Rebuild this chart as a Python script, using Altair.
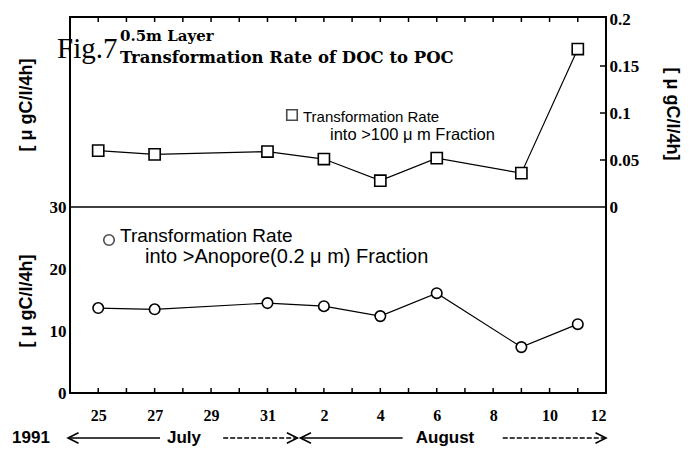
import altair as alt
import pandas as pd

# ---------------- data ----------------
days = [25, 27, 31, 33, 35, 37, 40, 42]          # 33 = Aug 2, ..., 42 = Aug 11
rate_100um = [0.060, 0.056, 0.059, 0.051, 0.028, 0.052, 0.036, 0.168]
rate_anopore = [13.7, 13.5, 14.5, 14.0, 12.4, 16.1, 7.4, 11.1]

x_tick_values = [25, 27, 29, 31, 33, 35, 37, 39, 41, 43]
minor_tick_days = list(range(25, 43))
top_y_ticks = [0, 0.05, 0.1, 0.15, 0.2]
bottom_y_ticks = [0, 10, 20, 30]
right_inner_ticks = [0.05, 0.1, 0.15]

solid_arrow_start = [23.93, 32.17]
solid_arrow_end = [27.19, 35.79]
dashed_arrow_start = [29.43, 39.34]
dashed_arrow_end = [32.06, 43.0]
arrowhead_left = [23.93, 32.17]
arrowhead_right = [32.06, 43.0]

UNIT = "[ \u03bc gC/l/4h]"

# ---------------- shared encodings ----------------
X_SCALE = alt.Scale(domain=[24, 43], nice=False, zero=False)
X_AXIS = alt.Axis(values=x_tick_values,
                  labelExpr="datum.value > 31 ? datum.value - 31 : datum.value",
                  ticks=False, tickSize=0, domain=False, grid=False,
                  labelFont="Liberation Serif", labelFontWeight="bold",
                  labelFontSize=16, labelColor="black", labelPadding=14,
                  labelBaseline="top")


def xenc(field):
    return alt.X(f"{field}:Q", scale=X_SCALE, axis=X_AXIS, title=None)


TOP_SCALE = alt.Scale(domain=[0, 0.2], range=[190, 2], nice=False, zero=True)
BOT_SCALE = alt.Scale(domain=[0, 30], range=[376, 190], nice=False, zero=True)

df_top = pd.DataFrame({"day": days, "rate": rate_100um})
df_bot = pd.DataFrame({"day": days, "rate": rate_anopore})

top = alt.Chart(df_top).mark_line(
    color="black", strokeWidth=1.2,
    point=alt.OverlayMarkDef(shape="square", size=125, filled=True, fill="white",
                             stroke="black", strokeWidth=1.6)
).encode(
    x=xenc("day"),
    y=alt.Y("rate:Q", scale=TOP_SCALE, title=None,
            axis=alt.Axis(orient="right", values=top_y_ticks, format=".2~f",
                          ticks=False, domain=False, grid=False,
                          labelFont="Liberation Serif", labelFontWeight="bold",
                          labelFontSize=17, labelColor="black", labelPadding=3))
)

bottom = alt.Chart(df_bot).mark_line(
    color="black", strokeWidth=1.2,
    point=alt.OverlayMarkDef(shape="circle", size=110, filled=True, fill="white",
                             stroke="black", strokeWidth=1.6)
).encode(
    x=xenc("day"),
    y=alt.Y("rate:Q", scale=BOT_SCALE, title=None,
            axis=alt.Axis(orient="left", values=bottom_y_ticks,
                          ticks=False, domain=False, grid=False,
                          labelFont="Liberation Serif", labelFontWeight="bold",
                          labelFontSize=17, labelColor="black", labelPadding=4))
)

right_ticks = alt.Chart(pd.DataFrame({"v": right_inner_ticks})).mark_rule(
    color="black", strokeWidth=1.5
).encode(
    y=alt.Y("v:Q", scale=TOP_SCALE, axis=None),
    x=alt.value(530), x2=alt.value(536)
)

mid_line = alt.Chart(pd.DataFrame({"a": [0]})).mark_rule(
    color="black", strokeWidth=1.5
).encode(y=alt.value(190))

df_minor = pd.DataFrame({"day": minor_tick_days})
ticks_bottom = alt.Chart(df_minor).mark_rule(color="black", strokeWidth=1.5).encode(
    x=xenc("day"), y=alt.value(376), y2=alt.value(371))
ticks_top = alt.Chart(df_minor).mark_rule(color="black", strokeWidth=1.5).encode(
    x=xenc("day"), y=alt.value(0), y2=alt.value(5))

# arrows under the axis
arrows_solid = alt.Chart(pd.DataFrame({"x1": solid_arrow_start, "x2": solid_arrow_end})).mark_rule(
    color="black", strokeWidth=1.3).encode(x=xenc("x1"), x2="x2:Q", y=alt.value(421))
arrows_dashed = alt.Chart(pd.DataFrame({"x1": dashed_arrow_start, "x2": dashed_arrow_end})).mark_rule(
    color="black", strokeWidth=1.3, strokeDash=[5, 2]).encode(x=xenc("x1"), x2="x2:Q", y=alt.value(421))
heads_left = alt.Chart(pd.DataFrame({"x1": arrowhead_left})).mark_point(
    shape="M 2 -1 L 0 0 L 2 1", size=110, filled=False, color="black", strokeWidth=1.6,
    opacity=1).encode(x=xenc("x1"), y=alt.value(421))
heads_right = alt.Chart(pd.DataFrame({"x1": arrowhead_right})).mark_point(
    shape="M -2 -1 L 0 0 L -2 1", size=110, filled=False, color="black", strokeWidth=1.6,
    opacity=1).encode(x=xenc("x1"), y=alt.value(421))


def label(text, x, y, size, font="Liberation Sans", weight="normal", align="left",
          baseline="middle", angle=0):
    return alt.Chart(pd.DataFrame({"t": [text]})).mark_text(
        font=font, fontSize=size, fontWeight=weight, align=align, baseline=baseline,
        angle=angle, color="black"
    ).encode(x=alt.value(x), y=alt.value(y), text="t:N")


texts = [
    label("Fig.7", -13, 41, 29, font="Liberation Serif", baseline="alphabetic"),
    label("0.5m Layer", 50, 24, 15, font="DejaVu Serif", weight="bold", baseline="alphabetic"),
    label("Transformation Rate of DOC to POC", 50, 46, 16.5, font="DejaVu Serif",
          weight="bold", baseline="alphabetic"),
    label("Transformation Rate", 233, 100, 15),
    label("into >100 \u03bc m Fraction", 260, 118, 16.5),
    label("Transformation Rate", 50, 219, 19),
    label("into >Anopore(0.2 \u03bc m) Fraction", 75, 240, 20),
    label(UNIT, -43, 88, 18, weight="bold", align="center", angle=270),
    label(UNIT, -43, 284, 18, weight="bold", align="center", angle=270),
    label(UNIT, 602, 97, 18, weight="bold", align="center", angle=90),
    label("1991", -39, 421, 17, weight="bold", align="center"),
    label("July", 114, 421, 17, weight="bold", align="center"),
    label("August", 375, 421, 17, weight="bold", align="center"),
]

legend_sq = alt.Chart(pd.DataFrame({"a": [0]})).mark_point(
    shape="square", size=110, filled=True, fill="white", stroke="black", strokeWidth=1.6
).encode(x=alt.value(222), y=alt.value(98))
legend_ci = alt.Chart(pd.DataFrame({"a": [0]})).mark_point(
    shape="circle", size=110, filled=True, fill="white", stroke="black", strokeWidth=1.6
).encode(x=alt.value(39), y=alt.value(223))

chart = alt.layer(
    mid_line, ticks_bottom, ticks_top, right_ticks,
    top, bottom,
    arrows_solid, arrows_dashed, heads_left, heads_right,
    legend_sq, legend_ci, *texts
).resolve_scale(y="independent").properties(
    width=536, height=376,
    padding={"left": 62, "top": 9, "right": 77, "bottom": 55},
    autosize=alt.AutoSizeParams(type="none"),
    background="white",
).configure_view(stroke="black", strokeWidth=2)

chart.save("out.html", embed_options={"renderer": "svg", "actions": False})
